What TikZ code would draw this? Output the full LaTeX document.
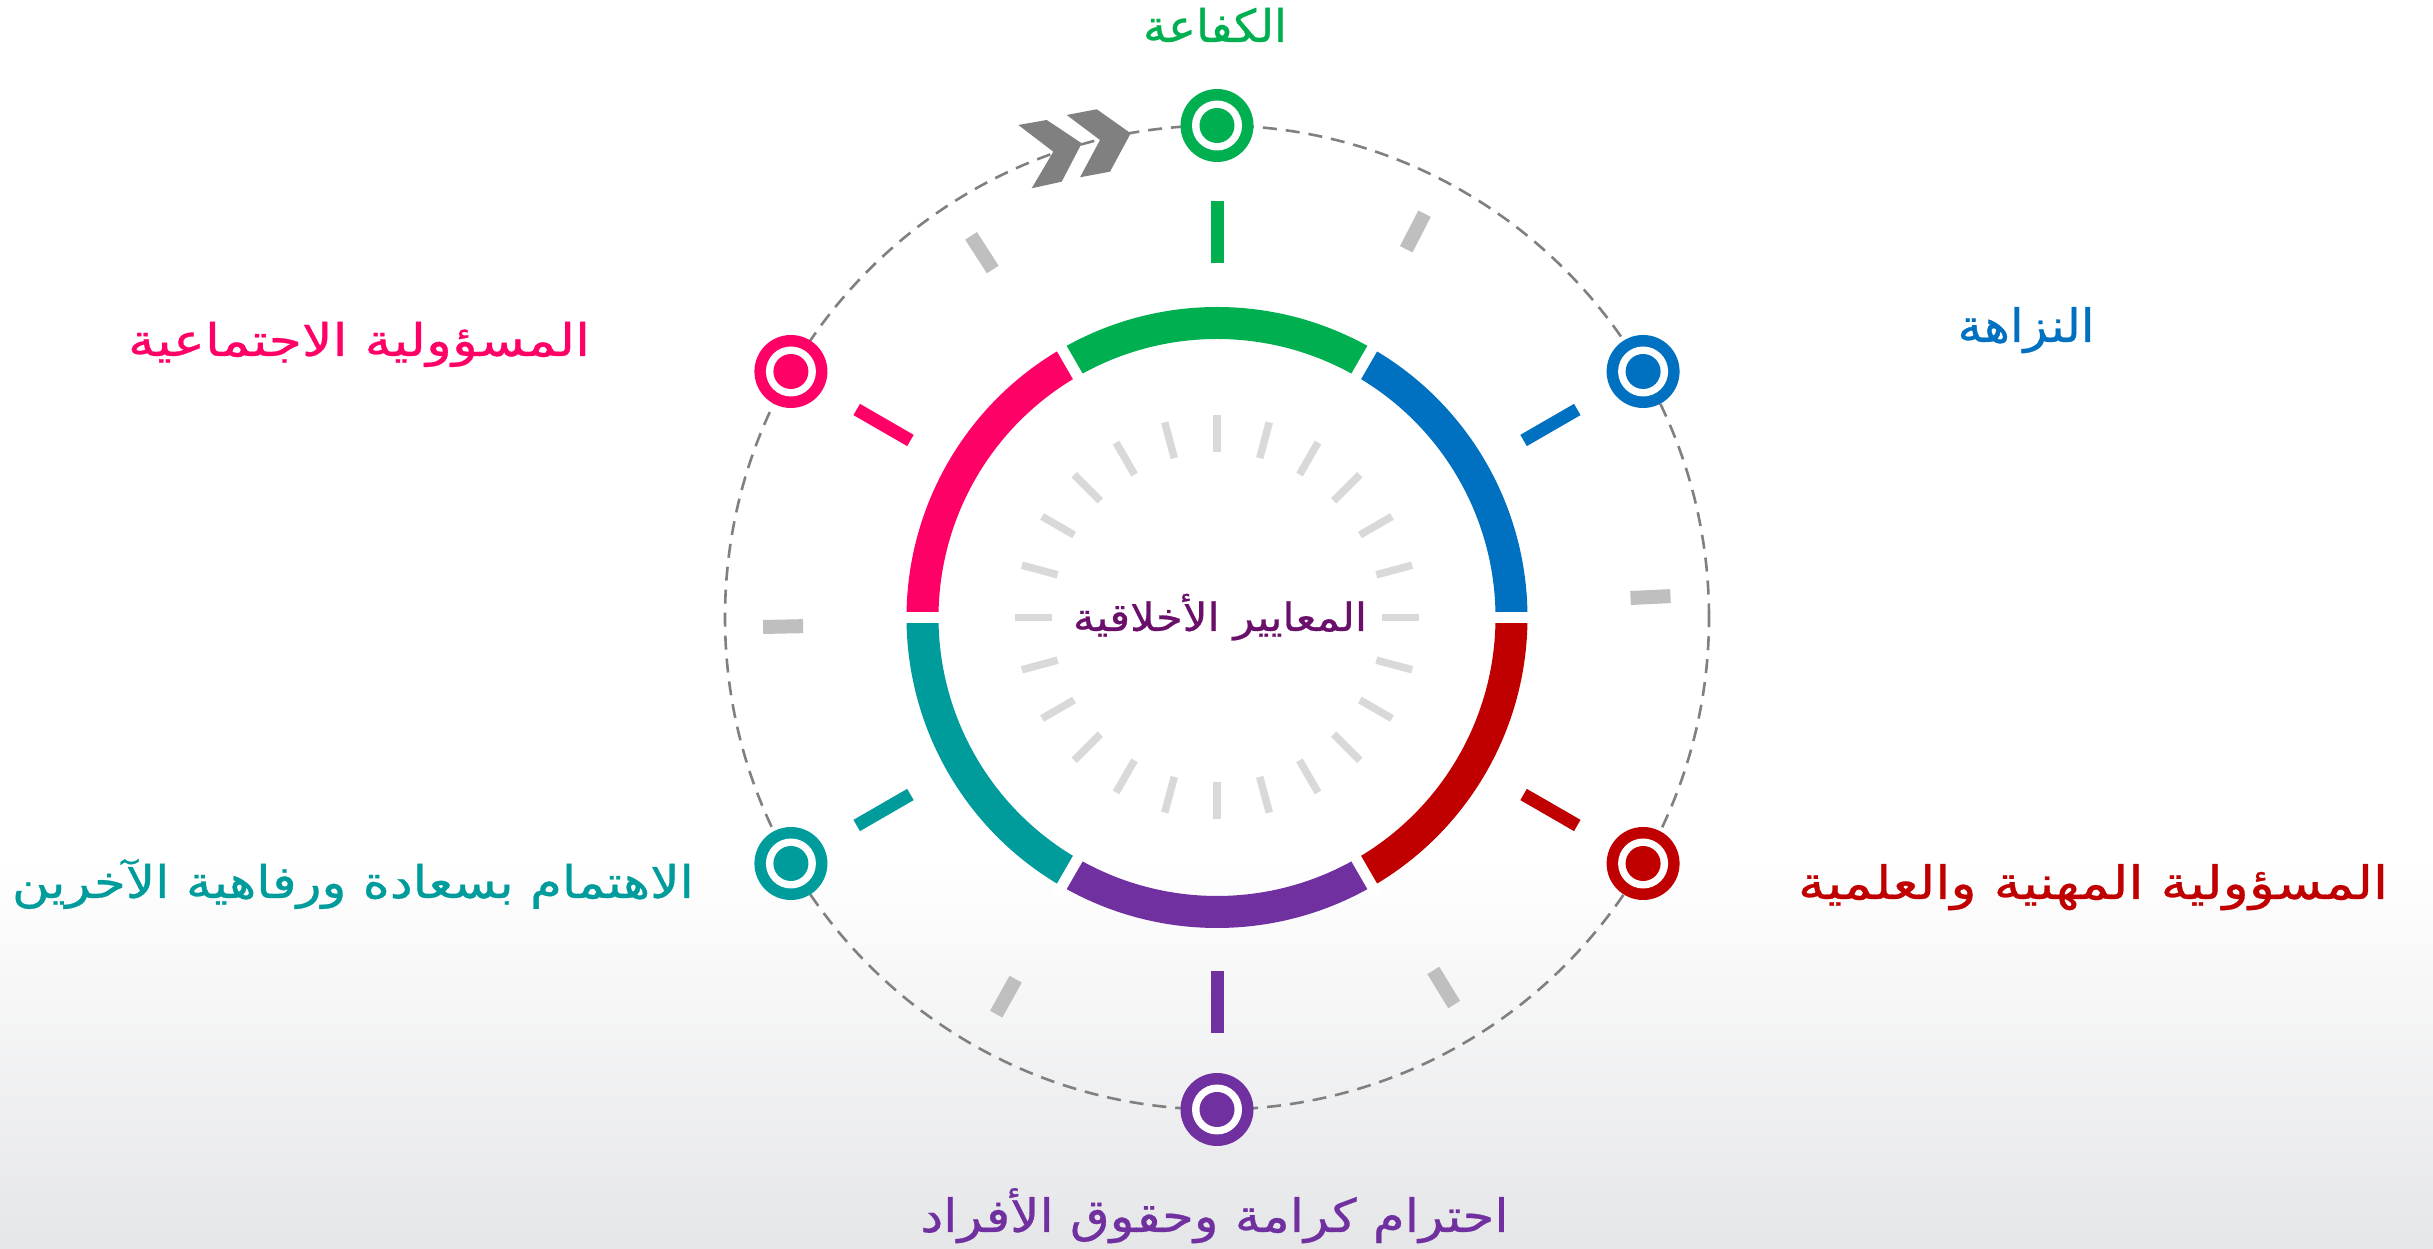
\documentclass[tikz,border=0pt]{standalone}
\usepackage{fontspec}
\usepackage{graphicx}
\newfontfamily\arabicfont[Script=Arabic, FakeBold=0.6]{DejaVu Sans}
\TeXXeTstate=1
\usetikzlibrary{calc}
\definecolor{cgreen}{HTML}{00B050}
\definecolor{cblue}{HTML}{0070C0}
\definecolor{cred}{HTML}{C00000}
\definecolor{cpurple}{HTML}{7030A0}
\definecolor{cteal}{HTML}{009B9B}
\definecolor{cpink}{HTML}{FF0066}
\definecolor{ccenter}{HTML}{6A0F6A}
\definecolor{dashgray}{HTML}{808080}
\definecolor{tickgray}{HTML}{BFBFBF}
\definecolor{ticklight}{HTML}{D9D9D9}
\definecolor{bggray}{HTML}{E5E6E8}
\newcommand\artext[3]{\resizebox{#1pt}{\height}{\fontsize{#2}{#2}\selectfont\arabicfont #3}}
\tikzset{
  ringnode/.style={circle, fill=#1, minimum size=73pt, inner sep=0pt,
    path picture={\fill[white] (path picture bounding box.center) circle (25pt);
                  \fill[#1] (path picture bounding box.center) circle (17.5pt);}},
  label text/.style={anchor=base, inner sep=0pt, text=#1},
  dashcircle/.style={draw=dashgray, line width=2.6pt, dash pattern=on 14pt off 9pt},
  colortick/.style={line width=13pt, draw=#1},
  graytick/.style={line width=14pt, draw=tickgray},
  innertick/.style={line width=7.5pt, draw=ticklight},
  chevron/.style={fill=dashgray}
}
\begin{document}
\begin{tikzpicture}[x=1pt,y=1pt]
\useasboundingbox (0,0) rectangle (2433,1249);
\fill[white] (0,0) rectangle (2433,1249);
\shade[top color=white, bottom color=bggray] (0,0) rectangle (2433,389);
\coordinate (C) at (1217,631.5);
% dashed orbit
\draw[dashcircle] (C) circle (492);
% gray ticks on orbit
\foreach \a in {2.7,62.8,122.8,181.2,240.9,301.5}
  \draw[graytick] ($(C)+(\a:414)$) -- ($(C)+(\a:454)$);
% inner light ticks
\foreach \a in {0,15,...,345}
  \draw[innertick] ($(C)+(\a:165)$) -- ($(C)+(\a:202)$);
% coloured ring
\draw[line width=32pt, cblue]   ($(C)+(0:294.5)$)   arc (0:60:294.5);
\draw[line width=32pt, cgreen]  ($(C)+(60:294.5)$)  arc (60:120:294.5);
\draw[line width=32pt, cpink]   ($(C)+(120:294.5)$) arc (120:180:294.5);
\draw[line width=32pt, cteal]   ($(C)+(180:294.5)$) arc (180:240:294.5);
\draw[line width=32pt, cpurple] ($(C)+(240:294.5)$) arc (240:300:294.5);
\draw[line width=32pt, cred]    ($(C)+(300:294.5)$) arc (300:360:294.5);
\foreach \a in {0,60,...,300}
  \draw[white, line width=11pt] ($(C)+(\a:270)$) -- ($(C)+(\a:320)$);
% coloured ticks
\draw[colortick=cgreen]  ($(C)+(90:354)$)  -- ($(C)+(90:416)$);
\draw[colortick=cblue]   ($(C)+(30:354)$)  -- ($(C)+(30:416)$);
\draw[colortick=cred]    ($(C)+(-30:354)$) -- ($(C)+(-30:416)$);
\draw[colortick=cpurple] ($(C)+(-90:354)$) -- ($(C)+(-90:416)$);
\draw[colortick=cteal]   ($(C)+(210:354)$) -- ($(C)+(210:416)$);
\draw[colortick=cpink]   ($(C)+(150:354)$) -- ($(C)+(150:416)$);
% chevrons
\fill[chevron] (1018.3,1124) -- (1046.7,1129) -- (1081.7,1105.7) -- (1061.7,1067.3) -- (1031.7,1060.7) -- (1053.3,1097.3) -- cycle;
\fill[chevron] (1066.7,1134) -- (1096.7,1139.7) -- (1130.7,1115.7) -- (1110,1077.3) -- (1080,1071.7) -- (1100,1109) -- cycle;
% ring nodes
\node[ringnode=cgreen]  (nkafa)  at ($(C)+(90:492)$)  {};
\node[ringnode=cblue]   (nnaz)   at ($(C)+(30:492)$)  {};
\node[ringnode=cred]    (nmihn)  at ($(C)+(-30:492)$) {};
\node[ringnode=cpurple] (nihtr)  at ($(C)+(-90:492)$) {};
\node[ringnode=cteal]   (nihtm)  at ($(C)+(210:492)$) {};
\node[ringnode=cpink]   (nijt)   at ($(C)+(150:492)$) {};
% labels
\node[label text=cgreen]  (tkafa) at (1215,1207) {\artext{144}{45}{\beginR الكفاعة\endR}};
\node[label text=cblue]   (tnaz)  at (2026,907)  {\artext{137}{46}{\beginR النزاهة\endR}};
\node[label text=cpink]   (tijt)  at (359,893)   {\artext{462}{45}{\beginR المسؤولية الاجتماعية\endR}};
\node[label text=cteal]   (tihtm) at (353,351)   {\artext{682}{45}{\beginR الاهتمام بسعادة ورفاهية الآخرين\endR}};
\node[label text=cred]    (tmihn) at (2093,350)  {\artext{590}{46}{\beginR المسؤولية المهنية والعلمية\endR}};
\node[label text=cpurple] (tihtr) at (1214.5,17) {\artext{588}{46}{\beginR احترام كرامة وحقوق الأفراد\endR}};
\node[label text=ccenter] (tcent) at (1220,618)  {\artext{294}{39}{\beginR المعايير الأخلاقية\endR}};
\end{tikzpicture}
\end{document}
